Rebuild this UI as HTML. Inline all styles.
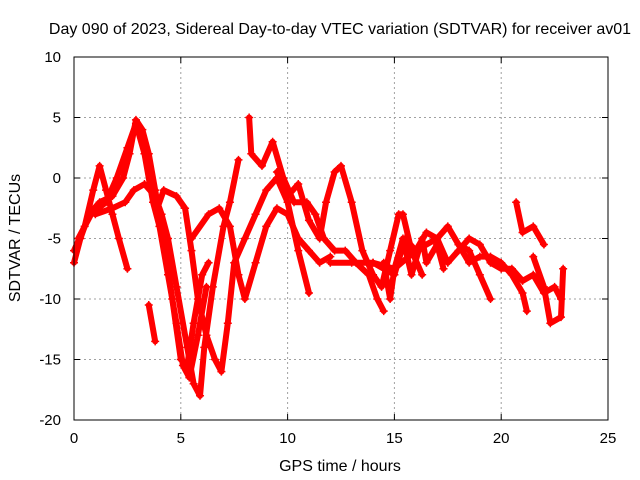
<!DOCTYPE html>
<html><head><meta charset="utf-8"><style>
body{margin:0;background:#fff}
svg{display:block;font-family:"Liberation Sans",sans-serif}
</style></head><body>
<svg id="chart" width="640" height="480" viewBox="0 0 640 480">
<text x="340" y="34" font-size="16" text-anchor="middle">Day 090 of 2023, Sidereal Day-to-day VTEC variation (SDTVAR) for receiver av01</text>
<g id="grid"></g>
<g id="axes"></g>
<g id="series"></g>
<rect x="74" y="57" width="534" height="363" fill="none" stroke="#000" stroke-width="1"/>
<text x="340" y="471" font-size="16" text-anchor="middle">GPS time / hours</text>
<text transform="translate(20,238) rotate(-90)" font-size="16" text-anchor="middle">SDTVAR / TECUs</text>
</svg>
<script>
const xTicks=[0,5,10,15,20,25];
const yTicks=[-20,-15,-10,-5,0,5,10];
const t1=[[0,-7],[0.3,-5],[0.7,-3],[1.2,-2],[1.8,-1.5],[2.3,0],[2.6,2],[2.9,4.8],[3.2,4],[3.5,2],[3.8,-1],[4.2,-5],[4.6,-10],[5.0,-15],[5.3,-15.5],[5.6,-12],[6,-8],[6.3,-7]];
const t2=[[0,-6],[0.5,-4],[0.9,-1],[1.2,1],[1.5,-1],[1.8,-3],[2.1,-5],[2.5,-7.5]];
const t3=[[0.2,-5],[0.8,-3],[1.5,-2],[2.0,0],[2.5,2.5],[2.9,4.5],[3.3,2],[3.7,-2],[4.0,-4],[4.4,-8],[4.8,-12],[5.1,-15.5],[5.4,-16.5],[5.8,-13],[6.2,-9]];
const t4=[[1.0,-3],[1.8,-2.5],[2.4,-2],[2.8,-1],[3.3,-0.5],[3.8,-1.5],[4.1,-3],[4.4,-5],[4.8,-9],[5.3,-14],[5.6,-17],[5.9,-18],[6.1,-14],[6.5,-9],[7.0,-4],[7.3,-2],[7.7,1.5]];
const t5=[[3.5,-10.5],[3.8,-13.5]];
const t6=[[3.9,-2.5],[4.2,-1],[4.8,-1.5],[5.2,-2.5],[5.5,-6],[5.8,-10],[6.2,-13],[6.6,-15],[6.9,-16],[7.2,-12],[7.5,-7],[8,-5],[8.5,-3],[9,-1],[9.5,0],[10,-2],[10.5,-6],[11,-9.5]];
const t7=[[5.5,-5],[6.3,-3],[6.8,-2.5],[7.3,-4],[7.7,-8],[8.0,-10],[8.5,-7],[9,-4],[9.5,-2.5],[10,-3],[10.5,-5],[11,-6],[11.5,-7],[12,-6.5]];
const t8=[[8.2,5],[8.3,2],[8.8,1],[9.3,3],[9.8,0],[10.3,-2],[10.9,-2],[11.3,-3],[11.7,-5],[12.2,-6],[12.7,-6],[13.2,-7],[13.8,-8],[14.2,-10],[14.5,-11]];
const t9=[[9.5,0.5],[10,-1.5],[10.5,-0.5],[11,-3.5],[11.5,-5],[11.8,-2],[12.2,0.5],[12.5,1],[13,-2],[13.5,-6],[14,-8],[14.4,-9],[14.8,-6],[15.2,-3],[15.4,-3],[15.8,-6],[16.3,-8]];
const t10=[[12,-7],[13,-7],[14,-7],[15,-7.5],[16,-6],[17,-5],[17.5,-4],[18,-5.5],[18.5,-7],[19,-6.5],[19.5,-6.5],[20,-7],[20.5,-8],[21,-9.5],[21.2,-11]];
const t11=[[14,-7],[15,-8],[15.5,-5],[16,-6],[16.5,-4.5],[17,-5],[17.5,-7],[18,-6],[18.5,-5],[19,-5.5],[19.5,-7],[20,-7.5],[20.5,-7.5],[21,-8.5],[21.5,-8],[22,-9.5],[22.5,-9],[22.8,-10]];
const t12=[[20.7,-2],[21,-4.5],[21.5,-4],[22,-5.5]];
const t13=[[21.5,-6.5],[22,-9],[22.3,-12],[22.8,-11.5],[22.9,-7.5]];
const t14=[[14.5,-7],[14.8,-10],[15,-7.5],[15.4,-5],[15.8,-8],[16.3,-5],[16.5,-7],[17,-5.5],[17.3,-7.5]];
const t15=[[18,-5.5],[18.5,-6],[19,-8],[19.5,-10]];
const traces=[t1,t2,t3,t4,t5,t6,t7,t8,t9,t10,t11,t12,t13,t14,t15];
const NS='http://www.w3.org/2000/svg';
const X0=74,X1=608,Y0=420,Y1=57;
function xs(v){return X0+(v-0)/25*(X1-X0);}
function ys(v){return Y0-(v+20)/30*(Y0-Y1);}
function mk(tag,attrs,parent){const e=document.createElementNS(NS,tag);for(const k in attrs)e.setAttribute(k,attrs[k]);parent.appendChild(e);return e;}
const grid=document.getElementById('grid'),axes=document.getElementById('axes'),ser=document.getElementById('series');
xTicks.forEach(t=>{const x=xs(t);
 if(t>0&&t<25){const l=mk('line',{x1:x,x2:x,y1:Y1,y2:Y0,stroke:'#a0a0a0','stroke-dasharray':'2,3'},grid);}
 mk('line',{x1:x,x2:x,y1:Y0,y2:Y0-6,stroke:'#000'},axes);mk('line',{x1:x,x2:x,y1:Y1,y2:Y1+6,stroke:'#000'},axes);
 const tx=mk('text',{x:x,y:443,'font-size':15,'text-anchor':'middle'},axes);tx.textContent=t;
 });
yTicks.forEach(t=>{const y=ys(t);
 if(t>-20&&t<10){const l=mk('line',{x1:X0,x2:X1,y1:y,y2:y,stroke:'#a0a0a0','stroke-dasharray':'2,3'},grid);}
 mk('line',{x1:X0,x2:X0+6,y1:y,y2:y,stroke:'#000'},axes);mk('line',{x1:X1,x2:X1-6,y1:y,y2:y,stroke:'#000'},axes);
 const tx=mk('text',{x:61,y:y+5,'font-size':15,'text-anchor':'end'},axes);tx.textContent=t;
 });
traces.forEach((tr,i)=>{
 const g=mk('g',{},ser);
 
 
 mk('polyline',{points:tr.map(p=>xs(p[0])+','+ys(p[1])).join(' '),fill:'none',stroke:'#f00','stroke-width':6,'stroke-linejoin':'round','stroke-linecap':'round'},g);
 tr.forEach(p=>{const x=xs(p[0]),y=ys(p[1]);
  const m=mk('path',{d:`M${x-4},${y}H${x+4}M${x},${y-4}V${y+4}`,stroke:'#f00','stroke-width':1.5},g);
  
  });
});
</script>
</body></html>
